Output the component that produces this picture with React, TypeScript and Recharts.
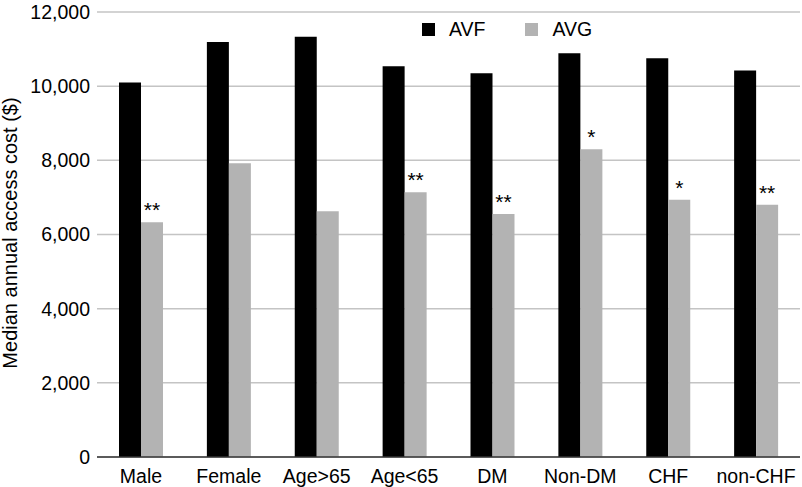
import React from 'react';
import { Bar, BarChart, CartesianGrid, Label, LabelList, Legend, XAxis, YAxis } from 'recharts';

const categories = ['Male', 'Female', 'Age>65', 'Age<65', 'DM', 'Non-DM', 'CHF', 'non-CHF'];
const avfValues = [10100, 11190, 11330, 10540, 10350, 10890, 10750, 10420];
const avgValues = [6330, 7920, 6630, 7140, 6550, 8300, 6940, 6800];
const avgMarks = ['**', '', '', '**', '**', '*', '*', '**'];
const yTicks = [0, 2000, 4000, 6000, 8000, 10000, 12000];

const FONT = '"Liberation Sans", Arial, sans-serif';
const AVF_COLOR = '#000000';
const AVG_COLOR = '#b3b3b3';

const data = categories.map((name, i) => ({
    name,
    avf: avfValues[i],
    avg: avgValues[i],
    mark: avgMarks[i],
}));

function renderLegend() {
    const item = (color: string, text: string, gap: number) => (
        <div style={{ display: 'flex', alignItems: 'center', marginRight: gap }}>
            <div style={{ width: 13, height: 13, background: color, marginRight: 14 }} />
            <span style={{ fontFamily: FONT, fontSize: 19.5, color: '#000', lineHeight: '20px' }}>{text}</span>
        </div>
    );
    return (
        <div style={{ display: 'flex', alignItems: 'center' }}>
            {item(AVF_COLOR, 'AVF', 40)}
            {item(AVG_COLOR, 'AVG', 0)}
        </div>
    );
}

function renderYLabel() {
    return (
        <text
            transform="translate(17, 233) rotate(-90)"
            textAnchor="middle"
            fontFamily={FONT}
            fontSize={20}
            fill="#000"
        >
            Median annual access cost ($)
        </text>
    );
}

export default function App() {
    return (
        <div style={{ position: 'absolute', left: 0, top: 0, background: '#fff' }}>
            <BarChart
                width={802}
                height={487}
                data={data}
                margin={{ top: 12, right: 2, bottom: 0, left: 0 }}
                barSize={22}
                barGap={0}
            >
                <CartesianGrid vertical={false} stroke="#c4c4c4" strokeWidth={1.5} />
                <XAxis
                    dataKey="name"
                    height={30}
                    tickLine={false}
                    tickMargin={6}
                    axisLine={{ stroke: '#333', strokeWidth: 1.5 }}
                    tick={{ fontFamily: FONT, fontSize: 19.5, fill: '#000' }}
                    interval={0}
                />
                <YAxis
                    width={97}
                    domain={[0, 12000]}
                    ticks={yTicks}
                    axisLine={false}
                    tickLine={false}
                    tickMargin={1}
                    tickFormatter={(v) => v.toLocaleString('en-US')}
                    tick={{ fontFamily: FONT, fontSize: 19.5, fill: '#000' }}
                >
                    <Label content={renderYLabel} />
                </YAxis>
                <Legend
                    layout="horizontal"
                    verticalAlign="middle"
                    align="center"
                    content={renderLegend}
                    wrapperStyle={{ top: 19, left: 422, width: 'auto' }}
                />
                <Bar dataKey="avf" name="AVF" fill={AVF_COLOR} isAnimationActive={false} />
                <Bar dataKey="avg" name="AVG" fill={AVG_COLOR} isAnimationActive={false}>
                    <LabelList
                        dataKey="mark"
                        position="top"
                        offset={5}
                        style={{ fontFamily: FONT, fontSize: 21, fill: '#000' }}
                    />
                </Bar>
            </BarChart>
        </div>
    );
}
